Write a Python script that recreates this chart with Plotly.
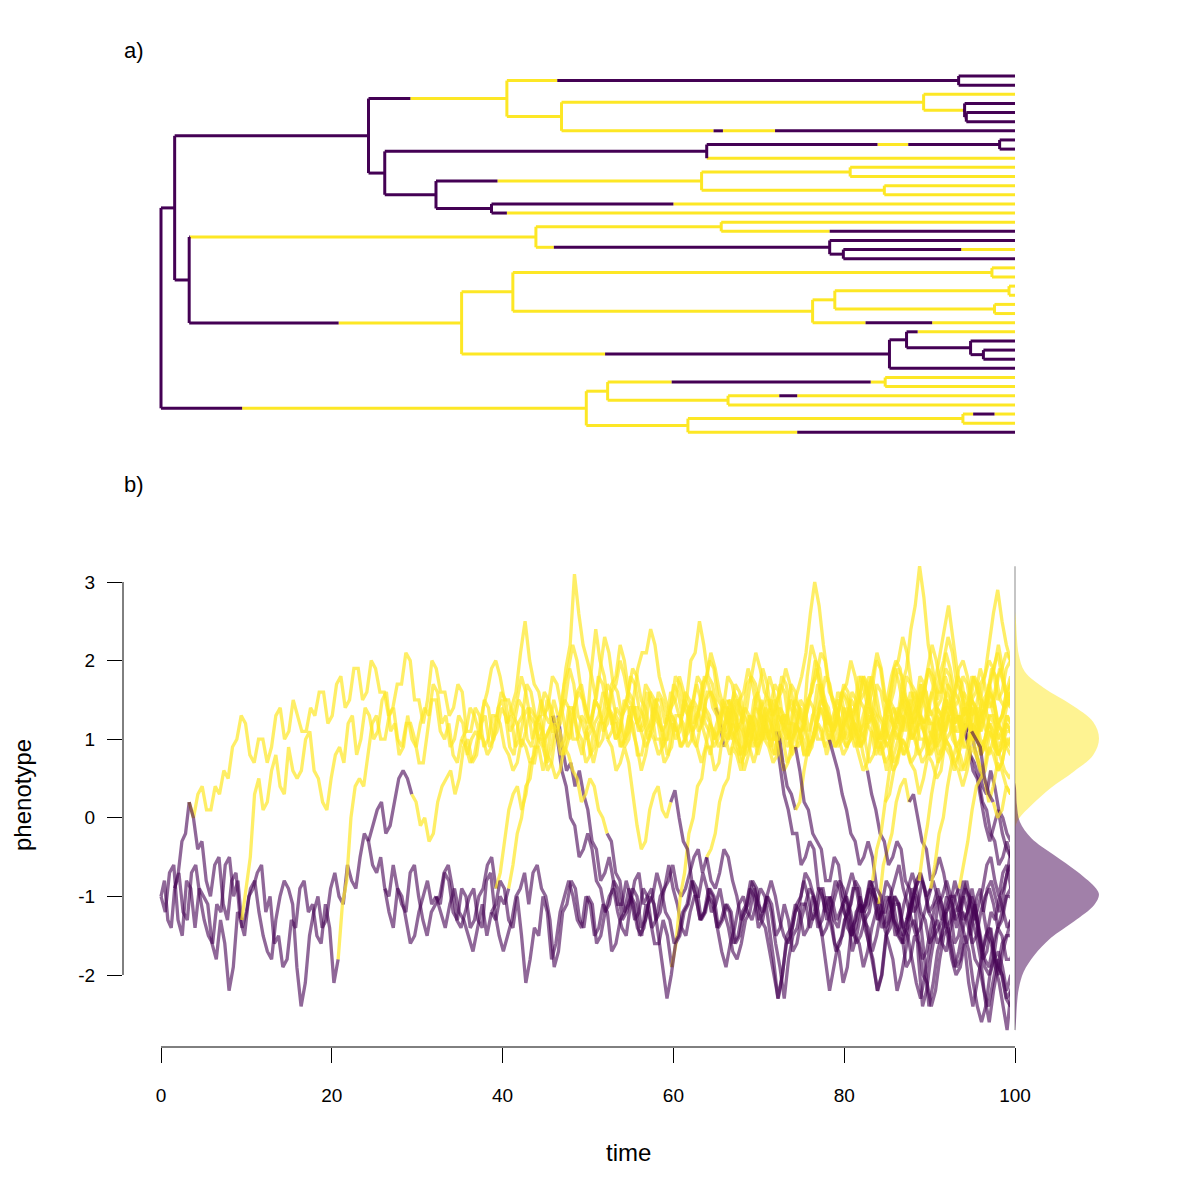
import numpy as np
import plotly.graph_objects as go

PURPLE = "#440154"
YELLOW = "#FDE725"
TREE_COL = {0: PURPLE, 1: YELLOW}
LINE_COL = {0: "rgba(68,1,84,0.6)", 1: "rgba(253,231,37,0.7)"}
FONT = "Liberation Sans, Arial, sans-serif"

# ---- tree topology (top to bottom) ----
children = {
    "root": ["A", "B"], "A": ["C", "D"], "C": ["E", "F"], "E": ["G", "H"],
    "G": ["t1", "t2"], "H": ["I", "t7"], "I": ["t3", "J"], "J": ["t4", "K"],
    "K": ["t5", "t6"], "F": ["L", "M"], "L": ["N", "t10"], "N": ["t8", "t9"],
    "M": ["O", "P"], "O": ["Q", "R"], "Q": ["t11", "t12"], "R": ["t13", "t14"],
    "P": ["t15", "t16"], "D": ["U", "V"], "U": ["T", "W"], "T": ["t17", "t18"],
    "W": ["t19", "X"], "X": ["t20", "t21"], "V": ["Y", "Z"], "Y": ["AA", "AB"],
    "AA": ["t22", "t23"], "AB": ["AC", "t28"], "AC": ["AD", "AE"],
    "AD": ["t24", "t25"], "AE": ["t26", "t27"], "Z": ["AF", "t33"],
    "AF": ["t29", "AG"], "AG": ["t30", "AH"], "AH": ["t31", "t32"],
    "B": ["AI", "AJ"], "AI": ["AK", "AL"], "AK": ["t34", "t35"],
    "AL": ["t36", "t37"], "AJ": ["AM", "t40"], "AM": ["t38", "t39"],
}

# node ages (time from root); tips are all at 100
node_time = {
    "root": 0.0, "A": 1.6, "B": 49.8, "C": 24.3, "D": 3.3, "E": 40.5, "F": 26.2,
    "G": 93.4, "H": 46.9, "I": 89.3, "J": 94.1, "K": 94.3, "L": 63.9, "N": 98.2,
    "M": 32.2, "O": 63.3, "Q": 80.7, "R": 84.7, "P": 38.7, "U": 43.9, "T": 65.6,
    "W": 78.3, "X": 79.9, "V": 35.2, "Y": 41.2, "AA": 97.3, "AB": 76.3,
    "AC": 78.9, "AD": 99.3, "AE": 97.6, "Z": 85.3, "AF": 87.3, "AG": 94.8,
    "AH": 96.3, "AI": 52.3, "AK": 84.8, "AL": 66.4, "AJ": 61.7, "AM": 93.9,
}
TIP_TIME = 100.0

# mapped regime on the branch leading to each node: 0 = purple, 1 = yellow
regime = {
    "A": [0], "B": [0, (9.5, 1)], "C": [0], "D": [0],
    "E": [0, (29.2, 1)], "F": [0], "G": [1, (46.4, 0)], "t1": [0], "t2": [0],
    "H": [1], "I": [1], "t3": [1], "J": [1, (93.9, 0)], "t4": [0], "K": [0],
    "t5": [0], "t6": [0], "t7": [1, (64.7, 0), (65.8, 1), (71.9, 0)],
    "L": [0], "N": [0, (83.9, 1), (87.5, 0)], "t8": [0], "t9": [0], "t10": [1],
    "M": [0], "O": [0, (39.4, 1)], "Q": [1], "t11": [1], "t12": [1], "R": [1],
    "t13": [1], "t14": [1], "P": [0], "t15": [0, (60.0, 1)], "t16": [0, (40.5, 1)],
    "U": [0, (3.4, 1)], "T": [1], "t17": [1], "t18": [1, (78.3, 0)],
    "W": [1, (46.0, 0)], "t19": [0], "X": [0], "t20": [0, (93.7, 1)], "t21": [0],
    "V": [0, (20.8, 1)], "Y": [1], "AA": [1], "t22": [1], "t23": [1],
    "AB": [1], "AC": [1], "AD": [1], "t24": [1], "t25": [1], "AE": [1],
    "t26": [1], "t27": [1], "t28": [1, (82.5, 0), (90.3, 1)],
    "Z": [1, (52.0, 0)], "AF": [0], "t29": [0, (88.6, 1)], "AG": [0], "t30": [0],
    "AH": [0], "t31": [0], "t32": [0], "t33": [0],
    "AI": [1], "AK": [1, (59.8, 0), (83.1, 1)], "t34": [1], "t35": [1],
    "AL": [1], "t36": [1, (72.4, 0), (74.5, 1)], "t37": [1],
    "AJ": [1], "AM": [1], "t38": [1, (95.1, 0), (97.6, 1)], "t39": [1],
    "t40": [1, (74.5, 0)],
}

# ---- simulated phenotype along each branch (evenly spaced in time) ----
ROOT_VALUE = -1.0
trait = {
    "A": [-0.8, -1.3, -1.4, -0.9],
    "D": [-0.7, -0.3, -0.2, 0.2],
    "B": [-1.2, -0.7, -0.6, -1.3, -1.5, -0.8, -0.9, -1.4, -0.9, -1.0,
          -1.1, -1.6, -1.8, -1.3, -1.6, -2.2, -1.9, -1.2, -1.3, -0.9,
          -0.5, 0.3, 0.5, 0.1, 0.2, 0.6, 0.8, 0.4, 0.3, 0.9,
          0.6, 0.5, 0.6, 1.0, 1.1, 0.6, 0.5, 0.2, 0.1, 0.5,
          0.8, 0.9, 0.7, 1.2, 1.3, 0.8, 1.0, 1.4, 1.3, 1.0,
          1.1, 1.5, 1.6, 1.1, 1.2, 0.8, 0.9, 1.3, 1.0, 0.9,
          1.2, 1.4, 1.3, 1.7, 1.6, 1.2, 1.3, 0.9, 1.0, 1.3,
          1.2, 0.8, 1.0, 1.1, 1.0, 1.5, 1.4, 1.0, 1.1, 1.4,
          1.3, 0.9, 0.8, 1.2, 1.3, 1.7, 1.6, 1.3, 1.2, 0.9,
          1.1, 1.2, 1.1, 0.8, 0.9, 1.3, 1.4, 1.0, 0.8, 1.1],
    "C": [-0.7, -1.2, -1.3, -0.7, -0.6, -1.0, -1.3, -1.5, -1.6, -1.1,
          -1.2, -0.6, -0.5, -1.0, -0.8, -1.4, -1.2, -0.9, -0.8, -1.2,
          -1.5, -1.7, -1.8, -1.3, -1.0, -0.8, -0.9, -1.1, -1.9, -2.4,
          -2.1, -1.5, -1.2, -1.0, -1.4, -1.3, -0.9, -0.7, -1.0, -1.1,
          -0.6, -0.8, -0.9, -0.5, -0.2, -0.3],
    "F": [-0.6, -0.7, -0.5, -0.9],
    "E": [-0.1, 0.1, 0.2, -0.2, -0.1, 0.2, 0.5, 0.6, 0.5, 0.3,
          0.2, -0.1, 0.0, -0.3, -0.2, 0.2, 0.4, 0.5, 0.6, 0.3,
          0.5, 0.9, 1.0, 0.7, 0.8, 1.2, 1.3, 0.9, 1.0, 1.4, 1.5, 1.2],
    "U": [0.0, 0.3, 0.4, 0.1, 0.1, 0.4, 0.3, 0.6, 0.5, 0.9,
          1.0, 1.3, 1.2, 0.8, 0.7, 1.0, 1.0, 0.7, 0.9, 1.3,
          1.4, 1.0, 1.1, 1.5, 1.3, 1.1, 1.1, 1.4, 1.3, 1.6,
          1.6, 1.2, 1.3, 1.7, 1.8, 1.4, 1.5, 1.9, 1.9, 1.5,
          1.6, 2.0, 1.9, 1.6, 1.6, 1.3, 1.4, 1.7, 1.7, 2.1,
          2.0, 1.5, 1.5, 1.2, 1.5, 2.0, 1.9, 1.6, 1.6, 1.3,
          1.4, 1.7, 1.6, 1.1, 1.1, 1.4, 1.3, 0.9, 1.0, 1.3,
          1.3, 1.6, 1.5, 1.1, 1.2, 1.5, 1.4, 1.0, 0.9, 1.2],
    "V": [0.0, -0.4, -0.3, -0.8, -1.0, -0.6, -0.5, -1.1, -1.3, -0.8,
          -0.7, -1.3, -1.5, -1.0, -0.9, -0.7, -0.6, -1.2, -1.0, -1.6,
          -1.5, -1.9, -1.8, -1.3, -1.4, -0.9, -0.8, -1.2, -1.1, -1.5,
          -1.6, -1.1, -1.4, -2.1, -1.8, -1.1, -0.8, 0.0, 0.4, 0.5,
          0.4, 0.8, 1.2, 1.3, 1.0, 1.0, 1.3, 1.4, 1.0, 0.9,
          1.2, 1.2, 1.0, 0.7, 0.7, 1.1, 1.5, 1.5, 1.1, 1.0,
          1.2, 0.8, 0.7, 1.0],
    "M": [-1.2, -1.4, -0.9, -1.0, -1.3, -1.6, -1.5, -1.2, -1.0, -0.8, -1.1, -1.0],
    "L": [-1.0, -0.6, -0.9, -1.1, -1.2, -0.7, -0.6, -1.0, -1.3, -1.5,
          -1.2, -1.1, -1.0, -0.7, -0.6, -0.9, -1.3, -1.4, -1.2, -1.0,
          -0.9, -1.3, -1.4, -0.8, -0.7, -1.2, -1.5, -1.7, -1.5, -1.3,
          -1.0, -0.9, -0.7, -1.1, -0.7, -0.6, -0.9, -1.0, -1.3, -1.9,
          -1.7, -1.2, -1.1, -0.8, -0.9, -1.3, -1.4, -1.0, -1.1, -1.6,
          -1.5, -1.2, -1.0, -0.9, -1.2, -1.4, -1.5, -1.1, -0.8, -0.7,
          -1.1, -1.0, -0.9, -1.3, -1.2, -0.9, -0.8, -0.6, -0.9, -1.0,
          -0.9, -0.7, -0.5, -0.4, -0.7, -0.5],
    "P": [-1.2, -1.4, -1.1, -0.9, -1.2, -1.3, -1.5, -1.7, -1.4, -1.1, -1.5, -1.2],
    "O": [-1.1, -0.7, -0.8, -1.2, -1.3, -0.9, -1.0, -1.4, -1.3, -1.0,
          -0.9, -0.6, -0.5, -0.9, -0.7, -0.3, 0.1, 0.3, 0.4, 0.1,
          0.3, 0.7, 0.7, 1.0, 1.0, 0.6, 0.7, 1.1, 1.2, 1.5,
          1.4, 1.0, 1.0, 1.3, 1.2, 0.8, 0.9, 1.2, 1.3, 1.7,
          1.6, 1.3, 1.2, 0.9, 1.0, 1.4, 1.4, 1.1, 1.2, 1.6,
          1.5, 1.2, 1.1, 0.8, 0.9, 1.3, 1.3, 1.0, 1.1, 1.5, 1.4, 1.2],
    "t15": [-1.1, -0.8, -0.9, -1.3, -1.4, -1.0, -1.5, -2.1, -1.8, -1.4,
            -1.5, -1.0, -1.2, -1.8, -1.6, -1.2, -1.0, -0.8, -1.0, -1.3,
            -1.4, -1.0, -1.1, -1.5, -1.4, -1.1, -1.2, -1.7, -1.6, -1.3,
            -1.2, -0.9, -1.1, -1.4, -1.5, -1.1, -1.3, -1.6, -1.6, -1.3,
            -1.5, -1.9, -1.6, -1.0, -0.7, -0.2, 0.0, 0.4, 0.5, 0.9,
            0.9, 0.6, 0.7, 1.1, 1.0, 1.4, 1.3, 0.9, 0.9, 1.2,
            1.3, 1.6, 1.4, 1.1, 1.1, 0.8, 1.2, 1.3, 1.3, 1.0,
            1.1, 1.5, 1.4, 1.1, 1.3, 1.7, 1.6, 1.2, 1.2, 0.9,
            1.0, 1.4, 1.3, 1.0, 1.1, 1.5, 1.6, 1.8, 1.6, 1.3,
            1.2, 0.9, 1.0, 1.2, 1.1, 0.8, 1.0, 1.3, 1.4, 1.7,
            1.5, 1.2, 1.2, 0.9, 1.1, 1.4, 1.4, 1.1, 1.2, 1.6,
            1.5, 1.2, 1.1, 0.8, 1.0, 1.3, 1.3, 1.0, 1.1, 1.4, 1.5, 1.3],
    "t16": [-1.3, -1.0, -1.1, -0.9, -0.6, -0.2, 0.0, 0.4, 0.5, 0.9,
            0.9, 0.6, 0.8, 1.2, 1.1, 0.9, 1.0, 1.4, 1.4, 1.1,
            1.0, 0.7, 0.8, 1.2, 1.3, 1.6, 1.5, 1.2, 1.2, 0.9,
            1.0, 1.3, 1.2, 0.8, 0.8, 1.1, 1.2, 1.5, 1.4, 1.0,
            1.0, 1.3, 1.2, 0.9, 1.0, 1.4, 1.5, 1.8, 1.7, 1.3,
            1.2, 1.0, 1.1, 1.4, 1.4, 1.1, 1.0, 0.7, 0.8, 1.2,
            1.2, 0.9, 1.0, 1.3, 1.4, 1.7, 1.6, 1.2, 1.1, 0.8,
            0.9, 1.1, 1.2, 1.5, 1.4, 1.0, 1.0, 1.3, 1.2, 0.9,
            1.0, 1.2, 1.3, 1.6, 1.5, 1.1, 1.0, 0.7, 0.8, 1.0,
            1.1, 1.4, 1.6, 1.9, 1.7, 1.4, 1.3, 1.0, 1.1, 1.3,
            1.2, 0.8, 0.9, 1.2, 1.3, 1.6, 1.5, 1.1, 1.1, 1.4,
            1.3, 1.0, 1.0, 1.3, 1.4, 1.7, 1.5, 1.2, 1.3, 1.6, 1.7, 1.5],
    "H": [1.4, 1.6, 2.1, 2.5, 2.0, 1.7, 1.6, 1.3, 1.4, 1.8, 1.7, 1.4],
    "G": [1.3, 0.9, 1.0, 1.3, 1.4, 1.0, 1.2, 1.5, 1.3, 1.2,
          1.5, 1.3, 0.9, 0.6, 0.7, 0.4, 0.6, 0.3, 0.1, -0.3,
          -0.4, -0.8, -0.7, -0.5, -0.8, -1.1, -1.1, -0.8, -1.0, -1.3,
          -1.2, -0.9, -1.0, -1.4, -1.3, -1.0, -0.9, -0.6, -0.9, -1.1,
          -1.4, -1.5, -1.2, -1.0, -1.0, -0.7, -0.9, -1.2, -1.1, -0.9,
          -1.2, -1.4, -1.7, -1.8, -1.6, -1.3, -1.2, -0.9, -1.1, -1.2,
          -1.0, -0.8, -1.0, -1.3, -1.5, -1.6, -1.4, -1.1, -1.0, -0.7,
          -0.8, -1.0, -1.3, -1.5, -1.4, -1.2, -1.0, -0.8, -0.9, -1.1,
          -1.4, -1.6, -1.5, -1.3, -1.2, -0.9, -1.1, -1.4, -1.3, -1.0,
          -0.8, -0.6, -0.9, -1.1, -1.3, -1.5, -1.4, -1.2, -1.0, -0.8,
          -1.0, -1.3, -1.2, -1.0, -1.0, -1.2],
    "t1": [-1.4, -1.6, -1.3, -1.1, -1.5, -1.8, -1.7, -1.4, -1.8, -2.0,
           -1.7, -1.5, -1.3, -1.5],
    "t2": [-1.0, -0.8, -1.1, -1.3, -1.1, -0.9, -0.6, -0.5, -0.8, -1.0,
           -0.7, -0.6, -0.9, -0.8],
    "I": [1.9, 2.2, 3.1, 2.6, 2.2, 2.0, 1.8, 1.5, 1.9, 2.3,
          2.1, 1.7, 1.6, 1.3, 1.4, 1.8, 1.7, 1.4, 1.3, 1.0,
          1.1, 1.5, 1.5, 1.2, 1.3, 1.7, 1.6, 1.3, 1.5, 2.0,
          2.1, 2.5, 2.2, 1.8, 1.7, 1.4, 1.2, 1.1, 1.3, 1.6,
          1.5, 1.2, 1.4, 1.8, 1.7, 1.4, 1.2, 1.0, 1.2, 1.5,
          1.6, 1.9, 1.7, 1.4, 1.3, 1.1, 1.8, 2.2, 2.0, 1.6,
          1.4, 1.2, 1.3, 1.5, 1.4, 1.0, 1.1, 1.4, 1.5, 1.8,
          1.6, 1.3, 1.2, 1.0, 1.1, 1.5, 1.4, 1.2, 1.4, 1.8,
          1.7, 1.4, 1.3, 1.2],
    "t3": [1.3, 1.6, 1.8, 2.1, 2.4, 2.7, 2.3, 1.9, 1.6, 1.4,
           1.5, 1.8, 1.6, 1.3, 1.4, 1.7, 1.9, 2.2, 1.9, 1.5, 1.4, 1.6],
    "J": [1.4, 1.6, 1.4, 1.1, 1.3, 1.5, 1.4, 1.2, 1.3, 1.1],
    "K": [1.2, 1.1],
    "t4": [0.9, 0.6, 0.5, 0.2, -0.1, -0.3, -0.1, 0.1, -0.2, -0.4, -0.5, -0.3],
    "t5": [1.2, 0.9, 0.7, 0.4, 0.3, 0.6, 0.4, 0.1, 0.0, -0.2, -0.3, 0.0],
    "t6": [0.8, 0.7, 0.5, 0.2, 0.1, -0.2, -0.3, -0.6, -0.5, -0.3, -0.5, -0.7],
    "t7": [1.1, 1.0, 1.4, 1.6, 1.5, 1.2, 1.9, 2.4, 2.0, 1.8,
           1.4, 1.3, 1.2, 0.9, 1.0, 1.4, 1.4, 1.1, 1.2, 1.6,
           1.4, 1.0, 1.0, 0.7, 0.8, 1.2, 1.1, 0.9, 1.0, 1.4,
           1.4, 1.1, 1.2, 1.6, 1.6, 1.4, 1.2, 0.9, 1.0, 1.2,
           1.1, 0.8, 0.9, 1.3, 1.2, 1.0, 1.1, 1.5, 1.4, 1.1,
           0.7, 0.3, 0.1, -0.2, -0.2, -0.6, -0.5, -0.3, -0.4, -0.9,
           -1.0, -1.3, -1.1, -0.8, -0.9, -1.2, -1.3, -1.7, -1.5, -1.2,
           -1.1, -0.8, -0.9, -1.3, -1.2, -1.0, -1.1, -1.5, -1.4, -1.1,
           -0.9, -0.7, -0.9, -1.2, -1.3, -1.6, -1.5, -1.1, -1.0, -0.8,
           -1.0, -1.3, -1.2, -1.0, -1.2, -1.6, -1.5, -1.2, -1.0, -0.9,
           -1.1, -1.4, -1.3, -1.0, -1.0, -1.2],
    "N": [-0.8, -0.9, -0.7, -0.4, -0.5, -0.8, -1.0, -1.3, -1.2, -0.9,
          -1.0, -1.4, -1.3, -1.0, -1.2, -1.6, -1.9, -2.3, -1.8, -1.5,
          -1.4, -1.1, -1.1, -1.4, -1.2, -0.9, -0.9, -1.2, -1.4, -1.7,
          -1.6, -1.3, -1.2, -0.9, -0.9, -1.2, -1.1, -0.8, -1.0, -1.1,
          -0.6, -0.4, -0.2, 0.2, 0.4, 0.5, 0.2, 0.3, 0.0, -0.3,
          -0.4, -0.8, -0.7, -0.5, -0.7, -1.0, -1.1, -1.4, -1.2, -0.9,
          -1.0, -1.2, -1.4, -1.7, -1.5, -1.2, -1.3, -1.0],
    "t8": [-1.2, -1.4, -1.3, -1.6],
    "t9": [-0.9, -0.7, -0.4, -0.5],
    "t10": [-0.4, -0.2, 0.2, 0.4, 0.5, 0.9, 0.8, 0.6, 0.9, 1.1,
            1.0, 0.8, 1.0, 1.3, 1.2, 1.0, 0.9, 0.6, 0.7, 1.0,
            1.2, 1.4, 1.2, 0.9, 1.0, 1.2, 1.1, 0.8, 1.0, 1.3,
            1.4, 1.7, 1.6, 1.2, 1.1, 0.9, 1.0, 1.3, 1.2, 1.0,
            0.9, 0.6, 0.8, 1.1, 1.0, 0.8, 0.9, 1.2, 1.3, 1.6,
            1.4, 1.1, 1.0, 0.7, 0.8, 1.0, 1.1, 1.4, 1.2, 0.9,
            0.9, 1.2, 1.1, 0.8, 0.9, 1.1, 1.0, 0.6, 0.7, 1.0, 0.9, 0.8],
    "Q": [1.5, 1.6, 1.5, 1.2, 1.4, 1.8, 1.7, 1.4, 1.3, 1.0,
          1.1, 1.5, 1.6, 1.9, 1.7, 1.3, 1.4, 1.7, 1.6, 1.2,
          1.2, 0.9, 1.0, 1.4, 1.6, 2.0, 1.9, 1.5, 1.4, 1.1, 1.2, 1.6, 1.5, 1.3],
    "t11": [1.4, 1.8, 1.7, 1.4, 1.6, 2.0, 1.9, 1.5, 1.4, 1.2,
            1.3, 1.7, 1.9, 2.4, 2.7, 3.2, 2.8, 2.2, 1.9, 1.6,
            1.6, 1.9, 1.8, 1.4, 1.5, 1.8, 1.7, 1.3, 1.4, 1.7,
            1.8, 2.0, 1.9, 1.5, 1.6, 1.9, 2.0, 1.8],
    "t12": [1.2, 1.0, 1.1, 1.4, 1.2, 0.9, 0.9, 1.2, 1.0, 0.7,
            0.8, 1.1, 1.4, 1.5, 1.3, 1.0, 1.0, 0.8, 1.0, 1.3,
            1.1, 0.9, 0.8, 0.6, 0.8, 1.1, 1.3, 1.4, 1.2, 0.9,
            1.0, 1.2, 1.1, 0.8, 0.9, 1.1, 1.1, 0.9],
    "R": [1.0, 0.8, 1.1, 1.3, 1.2, 1.0, 1.2, 1.5, 1.4, 1.1,
          0.9, 0.7, 0.9, 1.2, 1.1, 0.9, 1.2, 1.4, 1.3, 1.0,
          1.4, 1.6, 1.8, 2.1, 2.6, 3.0, 2.7, 2.2, 1.8, 1.5,
          1.4, 1.1, 1.2, 1.4, 1.2, 0.9, 1.0, 1.2, 1.1, 0.8, 0.9, 1.0],
    "t13": [1.1, 1.4, 1.3, 1.1, 1.3, 1.6, 1.5, 1.3, 1.1, 0.9,
            1.1, 1.4, 1.5, 1.8, 1.6, 1.2, 1.3, 1.0, 1.2, 1.5,
            1.4, 1.1, 1.3, 1.6, 1.5, 1.2, 1.1, 0.9, 1.0, 1.2],
    "t14": [0.9, 0.6, 0.7, 1.0, 0.9, 0.7, 0.6, 0.3, 0.5, 0.8,
            0.7, 0.5, 0.6, 1.0, 0.9, 0.7, 0.6, 0.4, 0.6, 0.9,
            0.8, 0.6, 0.5, 0.2, 0.4, 0.7, 0.6, 0.4, 0.3, 0.5],
    "T": [1.3, 1.6, 1.5, 1.1, 1.1, 1.4, 1.5, 1.9, 1.7, 1.3,
          1.2, 1.0, 1.1, 1.5, 1.4, 1.2, 1.3, 1.7, 1.8, 2.2,
          2.0, 1.6, 1.5, 1.2, 1.1, 0.9, 1.0, 1.4, 1.3, 1.1,
          1.2, 1.6, 1.5, 1.3, 1.2, 0.9, 1.0, 1.3, 1.4, 1.8, 1.7, 1.4, 1.3, 1.1],
    "t17": [1.2, 1.5, 1.4, 1.2, 1.3, 1.7, 1.8, 2.1, 1.9, 1.6,
            1.5, 1.3, 1.4, 1.8, 1.7, 1.4, 1.3, 1.0, 1.2, 1.5,
            1.6, 1.9, 1.7, 1.4, 1.3, 1.1, 1.3, 1.6, 1.7, 2.0,
            1.8, 1.5, 1.4, 1.2, 1.3, 1.7, 1.6, 1.3, 1.5, 1.9,
            2.0, 2.3, 2.1, 1.7, 1.6, 1.4, 1.6, 1.9, 1.8, 1.5,
            1.7, 2.1, 1.9, 1.6, 1.5, 1.3, 1.4, 1.8, 1.7, 1.5,
            1.8, 2.2, 2.6, 2.9, 2.5, 2.2, 2.0, 1.9],
    "t18": [1.0, 0.8, 1.0, 1.2, 1.1, 0.9, 1.0, 1.4, 1.3, 1.0,
            0.9, 0.7, 0.8, 1.1, 1.2, 1.5, 1.4, 1.1, 1.0, 0.8,
            0.9, 1.2, 1.1, 0.9, 1.0, 0.8, 0.6, 0.3, 0.1, -0.2,
            -0.3, -0.6, -0.5, -0.3, -0.5, -0.9, -1.0, -1.4, -1.3, -1.0,
            -1.1, -1.5, -1.4, -1.1, -0.9, -0.7, -0.9, -1.2, -1.3, -1.6,
            -1.5, -1.2, -1.6, -1.9, -1.7, -1.4, -1.2, -1.0, -1.2, -1.5,
            -1.8, -1.9, -1.6, -1.4, -1.5, -1.8, -1.8, -1.6],
    "W": [1.3, 1.0, 1.1, 1.3, 1.0, 0.6, 0.4, 0.0, -0.1, -0.5,
          -0.4, -0.2, -0.4, -0.8, -0.9, -1.2, -1.1, -0.8, -0.9, -1.3,
          -1.2, -1.0, -1.1, -1.5, -1.4, -1.1, -1.0, -0.7, -0.9, -1.2,
          -1.3, -1.6, -1.5, -1.2, -1.1, -0.8, -1.0, -1.3, -1.2, -1.0,
          -1.1, -1.4, -1.7, -1.9, -1.6, -1.4, -1.1, -1.0, -1.2, -1.3,
          -1.1, -0.9, -1.0, -1.4, -1.8, -2.3, -2.0, -1.6, -1.5, -1.2,
          -1.1, -0.8, -1.0, -1.3, -1.2, -0.9, -1.2, -1.0],
    "t19": [-1.3, -1.4, -1.1, -1.0, -1.2, -1.5, -1.6, -1.9, -1.7, -1.4,
            -1.2, -1.1, -1.4, -1.6, -1.8, -2.2, -2.0, -1.7, -1.4, -1.3,
            -1.5, -1.8, -1.7, -1.4, -1.1, -1.0, -1.2, -1.5, -1.8, -2.0,
            -1.9, -1.6, -2.1, -2.4, -2.1, -1.8, -1.5, -1.4, -1.7, -1.9,
            -2.0, -2.3, -2.2, -2.0],
    "X": [-1.1, -1.3, -1.2, -1.1],
    "t20": [-0.9, -0.7, -0.9, -1.2, -1.1, -0.9, -1.0, -1.3, -1.1, -0.8,
            -0.9, -1.2, -1.5, -1.6, -1.4, -1.1, -0.8, -0.7, -0.9, -1.2,
            -1.1, -0.9, -1.1, -1.4, -1.3, -1.0, -0.9, -0.6, -0.3, 0.1,
            0.4, 0.5, 0.6, 0.9, 0.8, 0.6, 0.7, 1.0, 1.0, 0.8],
    "t21": [-1.4, -1.5, -1.2, -1.1, -1.4, -1.6, -1.9, -2.2, -2.0, -1.5,
            -1.2, -1.0, -1.1, -1.4, -1.5, -1.8, -2.1, -2.3, -2.0, -1.7,
            -1.4, -1.3, -1.6, -1.7, -1.4, -1.2, -1.1, -0.8, -1.0, -1.3,
            -1.5, -1.8, -2.3, -2.6, -2.2, -1.9, -1.6, -1.5, -1.5, -1.3],
    "Y": [1.1, 1.4, 1.3, 1.1, 1.4, 1.6, 1.9, 2.0, 1.8, 1.5, 1.5, 1.3],
    "AA": [1.5, 1.8, 1.6, 1.3, 1.2, 1.0, 1.1, 1.5, 1.4, 1.2,
           1.3, 1.7, 1.9, 2.2, 2.0, 1.6, 1.4, 1.2, 1.4, 1.8,
           1.7, 1.4, 1.3, 1.0, 1.1, 1.4, 1.6, 1.9, 1.8, 1.5,
           1.4, 1.1, 1.2, 1.6, 1.5, 1.3, 1.4, 1.8, 1.7, 1.4,
           1.3, 1.1, 1.2, 1.5, 1.7, 2.0, 1.9, 1.5, 1.4, 1.2,
           1.3, 1.7, 1.6, 1.3, 1.2, 0.9, 1.0, 1.4, 1.5, 1.8,
           1.6, 1.3, 1.2, 1.0, 1.1, 1.5, 1.4, 1.2, 1.4, 1.7,
           1.8, 2.1, 2.0, 1.6, 1.5, 1.2, 1.0, 0.9, 1.0, 1.3,
           1.5, 1.8, 1.7, 1.4, 1.3, 1.0, 1.1, 1.4, 1.6, 1.9,
           1.8, 1.5, 1.4, 1.1, 1.2, 1.6, 1.9, 2.2, 2.0, 1.7,
           1.6, 1.3, 1.4, 1.8, 1.7, 1.4, 1.2, 1.0, 1.1, 1.5, 1.6, 1.4],
    "t22": [1.6, 1.9, 1.7, 1.5, 1.6, 1.7],
    "t23": [1.2, 1.0, 1.1, 1.3, 1.2, 1.1],
    "AB": [1.2, 0.9, 1.1, 1.4, 1.3, 1.0, 0.9, 0.7, 0.9, 1.2,
           1.1, 0.8, 1.0, 1.3, 1.6, 1.7, 1.4, 1.2, 1.1, 0.9,
           1.0, 1.4, 1.3, 1.0, 1.1, 1.5, 1.4, 1.1, 0.9, 0.6,
           0.8, 1.1, 1.0, 0.8, 0.9, 1.3, 1.2, 1.0, 1.1, 1.5,
           1.4, 1.1, 0.9, 0.7, 0.9, 1.2, 1.1, 0.9, 1.0, 1.4,
           1.3, 1.0, 0.9, 0.6, 0.8, 1.1, 1.2, 1.5, 1.3, 1.0,
           1.0, 1.3, 1.2, 0.9, 1.0, 1.2, 1.1, 0.8, 0.8, 1.0],
    "AC": [1.2, 1.4, 1.3, 1.0, 1.1, 1.2],
    "AD": [1.4, 1.6, 1.5, 1.3, 1.4, 1.8, 1.7, 1.4, 1.3, 1.0,
           1.1, 1.5, 1.8, 2.0, 1.9, 1.5, 1.4, 1.2, 1.3, 1.7,
           1.6, 1.3, 1.4, 1.8, 2.0, 2.3, 2.1, 1.7, 1.6, 1.3,
           1.4, 1.8, 1.7, 1.4, 1.5, 1.9, 1.8, 1.5, 1.4, 1.6],
    "t24": [1.8, 1.7],
    "t25": [1.4, 1.5],
    "AE": [1.0, 0.8, 0.9, 1.2, 1.1, 0.9, 1.0, 1.4, 1.3, 1.0,
           0.9, 0.7, 0.8, 1.1, 1.3, 1.5, 1.4, 1.1, 1.0, 0.8,
           0.9, 1.3, 1.2, 0.9, 1.0, 1.4, 1.3, 1.0, 0.9, 0.6,
           0.7, 1.0, 1.1, 1.4, 1.3, 1.1, 1.2, 1.0],
    "t26": [1.2, 1.4, 1.5, 1.3],
    "t27": [0.8, 0.6, 0.5, 0.7],
    "t28": [1.2, 1.4, 1.2, 1.0, 1.1, 1.3, 1.2, 0.9, 1.0, 1.2,
            1.1, 0.8, 0.6, 0.3, 0.1, -0.2, -0.3, -0.6, -0.5, -0.3,
            -0.4, -0.8, -0.9, -1.2, -1.1, -0.8, -1.0, -0.9, -0.6, -0.2,
            0.0, 0.4, 0.7, 0.9, 0.8, 0.6, 0.8, 1.1, 1.0, 0.8,
            1.0, 1.3, 1.2, 0.9, 1.0, 1.2, 1.1, 1.0],
    "Z": [0.9, 0.7, 0.8, 1.1, 1.0, 0.8, 0.9, 1.3, 1.2, 0.9,
          0.8, 0.6, 0.7, 1.0, 0.9, 0.7, 0.8, 1.2, 1.1, 0.8,
          0.7, 0.5, 0.6, 0.9, 0.8, 0.6, 0.5, 0.2, 0.3, 0.5,
          0.4, 0.1, 0.0, -0.2, -0.3, -0.7, -0.8, -1.2, -1.1, -0.9,
          -1.0, -1.4, -1.3, -1.0, -1.1, -1.5, -1.9, -2.3, -2.0, -1.6,
          -1.5, -1.2, -1.1, -0.8, -0.9, -1.3, -1.2, -0.9, -1.0, -1.4,
          -1.3, -1.1, -1.2, -1.6, -1.5, -1.2, -1.1, -0.8, -0.9, -1.3,
          -1.4, -1.7, -2.0, -2.3, -2.0, -1.5, -1.4, -1.1, -1.2, -1.5,
          -1.4, -1.0, -1.1, -1.4, -1.8, -2.2, -1.9, -1.6, -1.5, -1.2,
          -1.1, -0.8, -0.9, -1.3, -1.4, -1.7, -1.5, -1.2, -1.2, -1.0],
    "AF": [-1.3, -1.5, -1.6, -1.3],
    "t29": [-1.2, -0.9, -0.8, -0.4, -0.1, 0.3, 0.6, 0.8, 1.1, 1.3,
            1.2, 0.9, 1.0, 1.4, 1.3, 1.0, 1.2, 1.5, 1.4, 1.1,
            0.9, 0.8, 1.0, 1.3, 1.2, 1.1],
    "AG": [-1.1, -1.0, -1.8, -2.4, -2.2, -1.8, -1.5, -1.4, -1.3, -1.0,
           -1.2, -1.6, -1.5, -1.2, -1.3, -1.5],
    "t30": [-1.8, -1.9, -2.2, -2.4, -2.1, -1.8, -2.0, -2.3, -2.4, -2.2],
    "AH": [-1.2, -1.0, -0.9, -1.2],
    "t31": [-0.9, -0.8, -1.0, -1.2, -1.0, -0.7, -0.6, -0.9],
    "t32": [-1.5, -1.6, -1.9, -2.1, -2.4, -2.7, -2.2, -1.8],
    "t33": [-1.3, -1.4, -1.5, -1.9, -1.8, -1.5, -1.6, -2.0, -2.1, -2.4,
            -2.2, -1.8, -1.5, -1.4, -1.6, -1.9, -1.8, -1.5, -1.7, -2.1,
            -2.4, -2.6, -2.4, -2.0, -1.8, -1.7, -1.9, -2.2, -2.0, -2.4],
    "AI": [0.9, 0.7, 0.9, 1.2, 1.2, 1.0],
    "AK": [0.9, 0.6, 0.7, 0.9, 0.7, 0.3, -0.1, -0.4, -0.3, 0.1,
           0.3, 0.4, 0.1, 0.0, 0.2, 0.35, 0.0, -0.3, -0.4, -0.8,
           -1.0, -1.3, -1.2, -0.9, -1.0, -1.4, -1.3, -1.1, -1.2, -1.6,
           -1.5, -1.2, -1.1, -0.8, -0.9, -1.3, -1.2, -1.0, -1.1, -1.5,
           -1.4, -1.1, -1.3, -1.7, -1.6, -1.3, -1.1, -0.9, -1.0, -1.4,
           -1.3, -1.0, -1.2, -1.6, -1.7, -2.1, -1.9, -1.4, -1.3, -1.0,
           -1.2, -1.1, -0.8, -0.4, -0.2, 0.2],
    "t34": [0.3, 0.6, 0.8, 1.0, 0.9, 0.7, 0.8, 1.2, 1.1, 0.9,
            1.0, 1.4, 1.3, 1.0, 0.9, 0.7, 0.8, 1.1, 1.2, 1.5,
            1.3, 1.0, 0.9, 0.8, 1.0, 1.2, 1.1, 0.9, 0.8, 1.0],
    "t35": [0.6, 0.8, 1.0, 1.3, 1.2, 1.0, 1.1, 1.5, 1.6, 1.9,
            1.7, 1.4, 1.3, 1.1, 1.4, 1.6, 1.9, 2.0, 1.8, 1.5,
            1.4, 1.2, 1.4, 1.7, 1.9, 2.1, 1.8, 1.6, 1.8, 1.6],
    "AL": [1.1, 1.4, 1.3, 1.0, 1.1, 1.5, 1.9, 2.1, 2.1, 2.4,
           2.2, 1.8, 1.6, 1.4, 1.3, 1.1, 1.2, 1.6, 1.5, 1.2,
           1.3, 1.7, 1.8, 2.1, 1.9, 1.6, 1.4, 1.5],
    "t36": [1.3, 1.1, 1.2, 1.4, 1.3, 1.0, 1.0, 1.3, 1.2, 0.9,
            0.8, 1.1, 0.7, 0.4, 0.3, 0.1, 0.2, 0.6, 0.9, 1.0,
            1.2, 1.5, 1.4, 1.1, 1.2, 1.6, 1.5, 1.2, 1.1, 0.9,
            1.0, 1.3, 1.5, 1.8, 1.6, 1.3, 1.2, 1.0, 1.1, 1.4,
            1.3, 1.1, 1.3, 1.6, 1.5, 1.2, 1.0, 0.8, 0.9, 1.2,
            1.4, 1.7, 1.6, 1.3, 1.2, 0.9, 1.0, 1.4, 1.3, 1.1,
            1.3, 1.6, 1.5, 1.2, 1.3, 1.6, 1.5, 1.4],
    "t37": [1.4, 1.2, 1.1, 0.8, 0.9, 1.3, 1.2, 1.0, 1.1, 1.5,
            1.4, 1.1, 1.0, 0.7, 0.8, 1.2, 1.1, 0.8, 0.9, 1.3,
            1.4, 1.7, 1.5, 1.2, 1.1, 0.9, 1.0, 1.4, 1.3, 1.0,
            0.8, 0.6, 0.7, 1.1, 1.0, 0.8, 0.9, 1.3, 1.2, 1.0,
            1.1, 1.5, 1.4, 1.1, 0.9, 0.7, 0.8, 1.1, 1.0, 0.8,
            0.9, 1.3, 1.2, 0.9, 1.0, 1.4, 1.3, 1.0, 0.8, 0.6,
            0.7, 1.1, 1.0, 0.8, 0.9, 1.2, 1.1, 0.9],
    "AJ": [1.2, 1.5, 1.4, 1.1, 1.2, 1.6, 1.7, 2.0, 1.8, 1.5,
           1.4, 1.2, 1.3, 1.7, 1.6, 1.3, 1.2, 0.9, 1.0, 1.4, 1.5, 1.8, 1.6, 1.3],
    "AM": [1.4, 1.7, 1.5, 1.2, 1.1, 0.9, 1.0, 1.4, 1.3, 1.0,
           1.1, 1.5, 1.6, 1.9, 1.7, 1.4, 1.3, 1.0, 1.1, 1.5,
           1.4, 1.2, 1.3, 1.7, 1.6, 1.3, 1.2, 0.9, 1.0, 1.3,
           1.5, 1.8, 1.7, 1.4, 1.3, 1.0, 1.1, 1.5, 1.4, 1.1,
           1.2, 1.6, 1.8, 2.1, 1.9, 1.5, 1.4, 1.1, 1.2, 1.6,
           1.5, 1.2, 1.4, 1.8, 1.7, 1.4, 1.3, 1.0, 1.1, 1.5,
           1.4, 1.2, 1.3, 1.1],
    "t38": [1.2, 1.1, 1.0, 0.9, 0.5, 0.3, 0.2, 0.0, 0.1, 0.4, 0.3, 0.5],
    "t39": [1.3, 1.5, 1.6, 1.9, 1.7, 1.4, 1.5, 1.8, 1.9, 2.1, 2.0, 1.7],
    "t40": [1.0, 0.9, 1.2, 1.4, 1.3, 1.0, 1.1, 1.5, 1.4, 1.1,
            0.9, 0.8, 0.9, 1.3, 1.2, 0.9, 1.0, 1.4, 1.3, 1.0,
            1.0, 1.3, 1.2, 0.9, 0.9, 0.6, 0.2, 0.1, -0.2, -0.3,
            -0.4, -0.8, -0.8, -0.5, -0.6, -1.0, -1.1, -1.5, -1.4, -1.1,
            -1.2, -1.6, -1.8, -2.2, -2.0, -1.5, -1.4, -1.1, -1.1, -1.4,
            -1.3, -0.9, -1.0, -1.3, -1.8, -2.4, -2.1, -1.7, -1.5, -1.2,
            -1.1, -0.8, -1.0, -1.3, -1.2, -0.9, -1.2, -1.6, -1.9, -2.0,
            -1.8, -1.4, -1.2, -1.0, -0.9, -0.7],
}

# ---- tip densities ----
yellow_level = [2.62, 2.49, 2.28, 2.07, 1.86, 1.65, 1.44, 1.22, 1.01,
                0.80, 0.59, 0.38, 0.16, -0.01, -0.12]
yellow_dens = [0.0, 0.01, 0.02, 0.04, 0.10, 0.30, 0.58, 0.81, 0.87,
               0.81, 0.61, 0.37, 0.17, 0.04, 0.0]
purple_level = [0.45, 0.38, 0.16, -0.05, -0.26, -0.47, -0.69, -0.90, -0.98,
                -1.11, -1.32, -1.53, -1.75, -1.96, -2.17, -2.38, -2.59, -2.72]
purple_dens = [0.0, 0.01, 0.02, 0.05, 0.17, 0.40, 0.65, 0.84, 0.87,
               0.82, 0.61, 0.37, 0.20, 0.09, 0.04, 0.02, 0.01, 0.0]

x_ticks = [0, 20, 40, 60, 80, 100]
y_ticks = [-2, -1, 0, 1, 2, 3]


def time_of(n):
    return node_time.get(n, TIP_TIME)


def state_at(n, t):
    s = regime[n][0]
    for ct, cs in regime[n][1:]:
        if t >= ct:
            s = cs
    return s


def node_state(n):
    if n == "root":
        return regime[children["root"][0]][0]
    return state_at(n, time_of(n))


# tip order and node heights (internal node = mean of its children)
ypos, edges = {}, []
ntip = [0]


def place(n):
    if n not in children:
        ntip[0] += 1
        ypos[n] = ntip[0]
        return
    for c in children[n]:
        edges.append((n, c))
        place(c)
    ypos[n] = np.mean([ypos[c] for c in children[n]])


place("root")

value = {"root": ROOT_VALUE}
value.update({n: v[-1] for n, v in trait.items()})

fig = go.Figure()

# ---- a) tree ----
tx = {0: [], 1: []}
ty = {0: [], 1: []}
for p, cs in children.items():
    s = node_state(p)
    tx[s] += [time_of(p), time_of(p), None]
    ty[s] += [ypos[cs[0]], ypos[cs[-1]], None]
for p, c in edges:
    cuts = [time_of(p)] + [ct for ct, _ in regime[c][1:]] + [time_of(c)]
    sts = [regime[c][0]] + [cs for _, cs in regime[c][1:]]
    for a, b, s in zip(cuts[:-1], cuts[1:], sts):
        tx[s] += [a, b, None]
        ty[s] += [ypos[c], ypos[c], None]
for s in (1, 0):
    fig.add_trace(go.Scatter(x=tx[s], y=ty[s], mode="lines", xaxis="x2", yaxis="y2",
                             line=dict(color=TREE_COL[s], width=3), hoverinfo="skip"))

# ---- b) phenogram ----
all_vals = [ROOT_VALUE]
for p, c in edges:
    vals = [value[p]] + trait[c]
    all_vals += trait[c]
    ts = np.linspace(time_of(p), time_of(c), len(vals))
    mids = (ts[:-1] + ts[1:]) / 2
    st = [state_at(c, m) for m in mids]
    start = 0
    for i in range(1, len(st) + 1):
        if i == len(st) or st[i] != st[start]:
            fig.add_trace(go.Scatter(
                x=ts[start:i + 1], y=vals[start:i + 1], mode="lines",
                xaxis="x", yaxis="y", hoverinfo="skip",
                line=dict(color=LINE_COL[st[start]], width=3.3)))
            start = i

# densities on the right margin
fig.add_trace(go.Scatter(x=[0, 0], y=[min(all_vals), max(all_vals)], mode="lines",
                         xaxis="x3", yaxis="y", hoverinfo="skip",
                         line=dict(color="rgba(110,110,110,0.8)", width=1)))
fig.add_trace(go.Scatter(x=yellow_dens, y=yellow_level, mode="lines", fill="toself",
                         fillcolor="rgba(253,231,37,0.5)", line=dict(width=0, shape="spline"),
                         xaxis="x3", yaxis="y", hoverinfo="skip"))
fig.add_trace(go.Scatter(x=purple_dens, y=purple_level, mode="lines", fill="toself",
                         fillcolor="rgba(68,1,84,0.5)", line=dict(width=0, shape="spline"),
                         xaxis="x3", yaxis="y", hoverinfo="skip"))

# page body adds an 8px margin; layout positions below are in reference pixels
W = 1200.0
OFF = 8


def fx(px):
    return (px - OFF) / W


def fy(py):
    return 1 - (py - OFF) / W


px_per_t = 8.54
x_rng = [(123 - 161) / px_per_t, (1110 - 161) / px_per_t]
px_per_y = 78.6
y0_px = 817.8
tick_font = dict(family=FONT, size=19, color="black")

fig.update_layout(
    width=1200, height=1200, margin=dict(l=0, r=0, t=0, b=0),
    paper_bgcolor="white", plot_bgcolor="white", showlegend=False, hovermode=False,
    xaxis=dict(domain=[fx(123), fx(1110)], range=x_rng, anchor="y",
               tickvals=x_ticks, ticks="outside", ticklen=15, tickcolor="black",
               showline=False, showgrid=False, zeroline=False, tickfont=tick_font,
               ticklabelstandoff=16),
    yaxis=dict(domain=[fy(1047), fy(555)],
               range=[(y0_px - 1047) / px_per_y, (y0_px - 555) / px_per_y],
               anchor="x", tickvals=y_ticks, ticktext=[str(v) for v in y_ticks],
               ticks="outside", ticklen=15, tickcolor="black", showline=False,
               showgrid=False, zeroline=False, tickfont=tick_font, ticklabelstandoff=8),
    xaxis2=dict(domain=[fx(123), fx(1110)], range=x_rng, anchor="y2", visible=False),
    yaxis2=dict(domain=[fy(450), fy(60)],
                range=[1 + (450 - 76) / 9.136, 1 + (60 - 76) / 9.136],
                anchor="x2", visible=False),
    xaxis3=dict(domain=[fx(1010), fx(1110)], range=[-5 * 0.87 / 84, 95 * 0.87 / 84],
                anchor="y", visible=False),
)

# axis lines spanning only the tick range, as in base R
fig.add_shape(type="line", xref="x", yref="paper", x0=0, x1=100,
              y0=fy(1047), y1=fy(1047), line=dict(color="black", width=1))
fig.add_shape(type="line", xref="paper", yref="y", x0=fx(123), x1=fx(123),
              y0=-2, y1=3, line=dict(color="black", width=1))

txt = dict(family=FONT, color="black")
for label, x, y, size, ang in [("a)", 134, 50, 22, 0), ("b)", 134, 485, 22, 0),
                               ("time", 628, 1152, 24, 0),
                               ("phenotype", 22, 795, 24, -90)]:
    fig.add_annotation(text=label, x=fx(x), y=fy(y), xref="paper", yref="paper",
                       xanchor="center", yanchor="middle", showarrow=False,
                       textangle=ang, font=dict(size=size, **txt))

fig.write_html("out.html")
